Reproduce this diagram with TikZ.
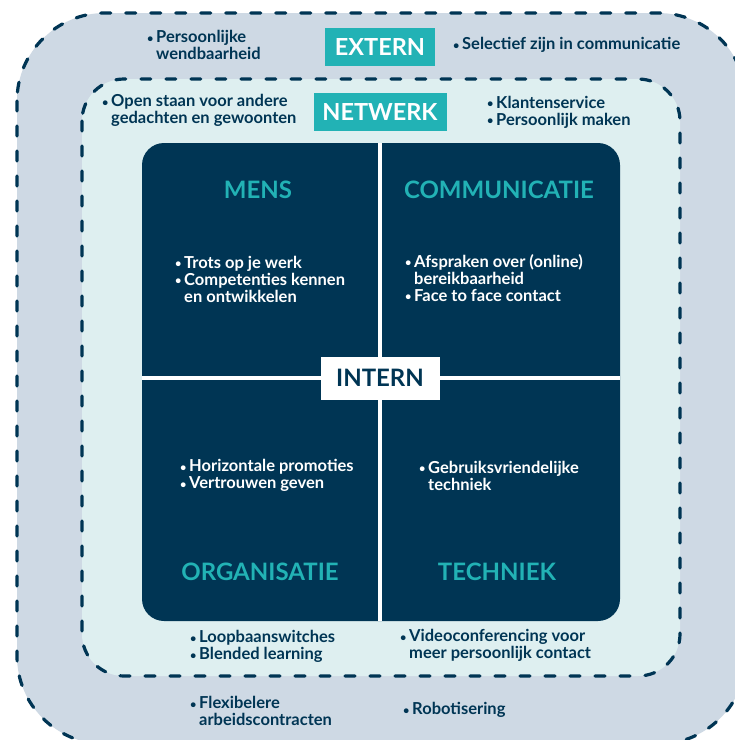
\documentclass[tikz,border=0pt]{standalone}
\usepackage{fontspec}
\setmainfont{Lato}
\usetikzlibrary{positioning}

\definecolor{navy}{HTML}{003554}
\definecolor{teal}{HTML}{22B2B5}
\definecolor{outerbg}{HTML}{CED9E4}
\definecolor{innerbg}{HTML}{DEEFF0}

% bullet with fixed width, and the matching indent for follow-up lines
\newcommand{\bul}{\makebox[9pt][l]{\raisebox{0.5pt}{\fontsize{11}{11}\selectfont•}}}
\newcommand{\ind}{\hspace*{9pt}}

\begin{document}
\begin{tikzpicture}[
  x=1pt, y=-1pt,
  zone/.style={line width=3.2pt, dash pattern=on 10pt off 15pt, line cap=round, draw=navy},
  tag/.style={fill=teal, text=white, font=\fontsize{23.5}{23.5}\selectfont\bfseries,
    minimum height=38pt, inner sep=0pt},
  head/.style={text=teal, font=\fontsize{24}{24}\selectfont\bfseries},
  item/.style={anchor=west, align=left, inner sep=0pt,
    font=\fontsize{16.5}{17}\selectfont\bfseries},
  dark/.style={item, text=navy},
  light/.style={item, text=white}
]
  \useasboundingbox (0,0) rectangle (735,740);
  \clip (0,0) rectangle (735,740);

  % zones
  \fill[white] (0,0) rectangle (735,740);
  \filldraw[zone, fill=outerbg, rounded corners=88pt] (17,13) rectangle (746,744);
  \filldraw[zone, fill=innerbg, rounded corners=42pt] (82,79) rectangle (680,676);

  % the four quadrants
  \fill[navy, rounded corners=22pt] (142,143) rectangle (620,621);
  \draw[white, line width=4pt] (380,143) -- (380,621);
  \draw[white, line width=4pt] (142,378) -- (620,378);

  % labels of the zones
  \node[tag, minimum width=110pt] (extern) at (380,47) {EXTERN};
  \node[tag, minimum width=133pt] (netwerk) at (380,112) {NETWERK};
  \node[fill=white, text=navy, font=\fontsize{24}{24}\selectfont\bfseries,
    minimum width=119pt, minimum height=43pt, inner sep=0pt] (intern) at (380,378) {INTERN};

  \node[head] (mens) at (258,190) {MENS};
  \node[head] (comm) at (499,190) {COMMUNICATIE};
  \node[head] (org) at (260,572) {ORGANISATIE};
  \node[head] (tech) at (497,572) {TECHNIEK};

  % extern
  \node[dark] (wendbaar) at (147,45) {\bul Persoonlijke\\\ind wendbaarheid};
  \node[dark] (selectief) at (453,45) {\bul Selectief zijn in communicatie};
  \node[dark] (flexibel) at (190,711) {\bul Flexibelere\\\ind arbeidscontracten};
  \node[dark] (robot) at (403,710) {\bul Robotisering};

  % netwerk
  \node[dark] (openstaan) at (102,110.5) {\bul Open staan voor andere\\\ind gedachten en gewoonten};
  \node[dark] (klant) at (487,112) {\bul Klantenservice\\\bul Persoonlijk maken};
  \node[dark] (loopbaan) at (190,646.5) {\bul Loopbaanswitches\\\bul Blended learning};
  \node[dark] (video) at (400,645.5) {\bul Videoconferencing voor\\\ind meer persoonlijk contact};

  % intern
  \node[light] (trots) at (175,279) {\bul Trots op je werk\\\bul Competenties kennen\\\ind en ontwikkelen};
  \node[light] (afspraken) at (405,278) {\bul Afspraken over (online)\\\ind bereikbaarheid\\\bul Face to face contact};
  \node[light] (promoties) at (180,475.5) {\bul Horizontale promoties\\\bul Vertrouwen geven};
  \node[light] (gebruik) at (419,475.5) {\bul Gebruiksvriendelijke\\\ind techniek};
\end{tikzpicture}
\end{document}
